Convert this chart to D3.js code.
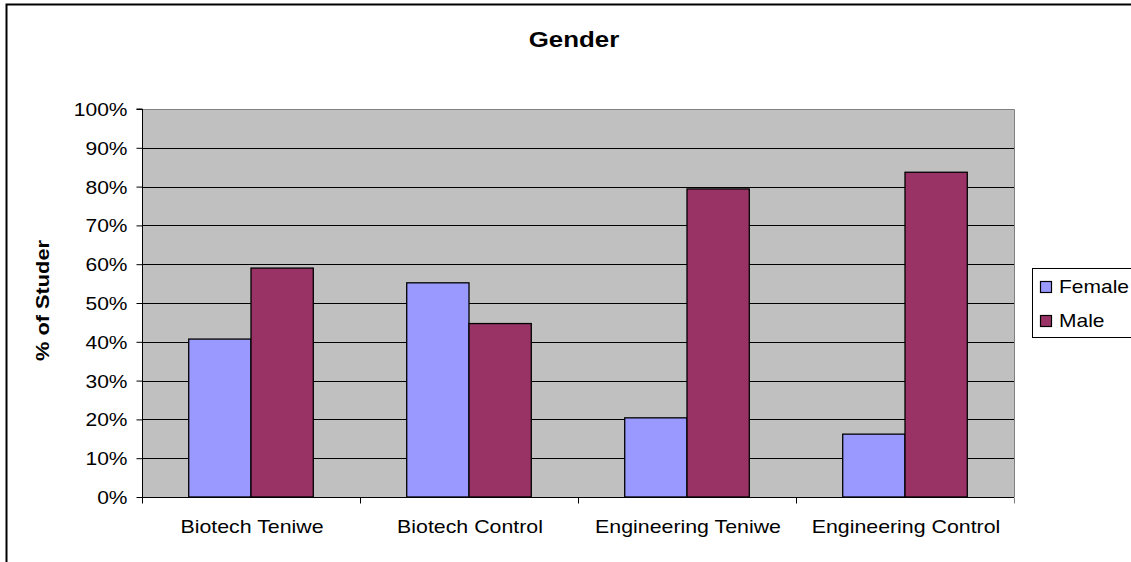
<!DOCTYPE html>
<html>
<head>
<meta charset="utf-8">
<script src="https://cdn.jsdelivr.net/npm/d3@7/dist/d3.min.js"></script>
<style>
  html, body { margin: 0; padding: 0; background: #fff; }
  svg { display: block; }
  text { font-family: "Liberation Sans", Arial, sans-serif; fill: #000; }
</style>
</head>
<body>
<svg id="chart" width="1131" height="562"></svg>
<script>
const categories = ["Biotech Teniwe", "Biotech Control", "Engineering Teniwe", "Engineering Control"];
const seriesNames = ["Female", "Male"];
const femaleValues = [0.407, 0.552, 0.204, 0.162];
const maleValues = [0.590, 0.447, 0.794, 0.837];
const yTickValues = [0, 0.1, 0.2, 0.3, 0.4, 0.5, 0.6, 0.7, 0.8, 0.9, 1.0];
const colors = { Female: "#9999FF", Male: "#993366" };

const series = { Female: femaleValues, Male: maleValues };

const svg = d3.select("#chart");
const plot = { left: 142, right: 1014, top: 109, bottom: 497 };

// outer chart border (extends past the window edge)
svg.append("rect")
  .attr("x", 6.5).attr("y", 4.5)
  .attr("width", 1200).attr("height", 700)
  .attr("fill", "none").attr("stroke", "#000").attr("stroke-width", 2);

const x0 = d3.scaleBand().domain(categories).range([plot.left, plot.right]).paddingInner(0).paddingOuter(0);
const x1 = d3.scaleBand().domain(seriesNames).range([0, x0.bandwidth()]).paddingInner(0).paddingOuter(0.75);
const y = d3.scaleLinear().domain([0, 1]).range([plot.bottom, plot.top]);

// plot background
svg.append("rect")
  .attr("x", plot.left).attr("y", plot.top)
  .attr("width", plot.right - plot.left).attr("height", plot.bottom - plot.top)
  .attr("fill", "#C0C0C0");

// gridlines
svg.append("g").selectAll("line")
  .data(yTickValues.filter(v => v > 0 && v < 1))
  .join("line")
  .attr("x1", plot.left).attr("x2", plot.right)
  .attr("y1", d => Math.round(y(d)) + 0.5).attr("y2", d => Math.round(y(d)) + 0.5)
  .attr("stroke", "#000").attr("stroke-width", 1);

// plot border top/right (gray)
svg.append("path")
  .attr("d", `M${plot.left},${plot.top + 0.5}H${plot.right + 0.5}V${plot.bottom}`)
  .attr("fill", "none").attr("stroke", "#808080").attr("stroke-width", 1);

// bars
const groups = svg.append("g").selectAll("g")
  .data(categories)
  .join("g")
  .attr("transform", d => `translate(${x0(d)},0)`);

groups.selectAll("rect")
  .data((d, i) => seriesNames.map(s => ({ s, v: series[s][i] })))
  .join("rect")
  .attr("x", d => x1(d.s))
  .attr("y", d => y(d.v))
  .attr("width", x1.bandwidth())
  .attr("height", d => plot.bottom - y(d.v))
  .attr("fill", d => colors[d.s])
  .attr("stroke", "#000").attr("stroke-width", 1.3);

// y axis
const yAxis = d3.axisLeft(y).tickValues(yTickValues).tickSize(6).tickFormat(d3.format(".0%"));
const gy = svg.append("g").attr("transform", `translate(${plot.left + 0.5},0)`).call(yAxis);
gy.select(".domain").attr("stroke", "#000").attr("d", `M-6,${plot.top}H0V${plot.bottom}`);
gy.selectAll(".tick line").attr("stroke", "#000");
gy.selectAll(".tick text").each(function() {
  const t = d3.select(this);
  t.attr("x", null).attr("dy", null)
   .attr("transform", "translate(-15,6.5) scale(1.2,1)")
   .attr("font-size", 17.5).attr("font-family", "Liberation Sans, Arial, sans-serif")
   .attr("text-anchor", "end").attr("fill", "#000");
});

// x axis
const xAxis = d3.axisBottom(x0).tickSize(0).tickSizeOuter(0);
const gx = svg.append("g").attr("transform", `translate(0,${plot.bottom + 0.5})`).call(xAxis);
gx.select(".domain").attr("stroke", "#000").attr("d", `M${plot.left},0H${plot.right}`);
gx.selectAll(".tick text").each(function() {
  d3.select(this).attr("y", null).attr("dy", null)
    .attr("transform", "translate(1,35) scale(1.22,1)")
    .attr("font-size", 17.5).attr("font-family", "Liberation Sans, Arial, sans-serif")
    .attr("fill", "#000");
});
// category boundary tick marks
const boundaries = categories.map(c => x0(c)).concat([plot.right]);
gx.append("g").selectAll("line")
  .data(boundaries)
  .join("line")
  .attr("x1", d => Math.round(d) + 0.5).attr("x2", d => Math.round(d) + 0.5)
  .attr("y1", 0).attr("y2", 6)
  .attr("stroke", (d, i) => i === boundaries.length - 1 ? "#808080" : "#000");

// title
svg.append("text")
  .attr("transform", "translate(574,47) scale(1.15,1)")
  .attr("text-anchor", "middle")
  .attr("font-size", 22.5).attr("font-weight", "bold")
  .text("Gender");

// y axis title
svg.append("text")
  .attr("transform", "translate(49,300.5) rotate(-90) scale(1.21,1)")
  .attr("text-anchor", "middle")
  .attr("font-size", 18).attr("font-weight", "bold")
  .text("% of Studer");

// legend
const legend = svg.append("g");
legend.append("rect")
  .attr("x", 1032.5).attr("y", 268.5)
  .attr("width", 200).attr("height", 69)
  .attr("fill", "#fff").attr("stroke", "#000").attr("stroke-width", 1);
const legendRows = [287, 321];
const li = legend.selectAll("g.item")
  .data(seriesNames)
  .join("g").attr("class", "item")
  .attr("transform", (d, i) => `translate(0,${legendRows[i]})`);
li.append("rect")
  .attr("x", 1040.5).attr("y", -5.5)
  .attr("width", 11).attr("height", 11)
  .attr("fill", d => colors[d]).attr("stroke", "#000").attr("stroke-width", 1.2);
li.append("text")
  .attr("transform", "translate(1059,6) scale(1.2,1)")
  .attr("font-size", 17.5)
  .text(d => d);
</script>
</body>
</html>
